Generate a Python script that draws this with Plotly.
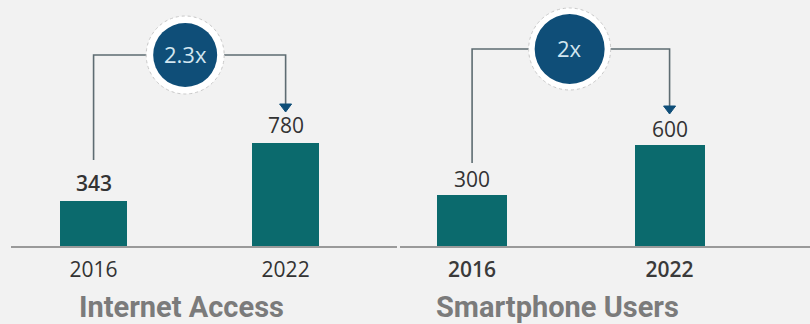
import plotly.graph_objects as go

# ---- data ----
years = ["2016", "2022"]
internet_access = [343, 780]
smartphone_users = [300, 600]
multipliers = ["2.3x", "2x"]
panel_titles = ["Internet Access", "Smartphone Users"]

# ---- styles ----
BG = "#f2f2f2"
BAR = "#0b6a6d"
CIRCLE = "#0f4e78"
CIRCLE_TXT = "#d3e6f0"
LINE = "#5e6c72"
TXT = "#333333"
TITLE = "#7b7b7b"
NUM_FONT = "Open Sans"

W, H = 810, 324
PLOT_H = 246  # pixel height of the plotting area (baseline at y=246)

panels = [
    dict(vals=internet_access, mult=multipliers[0], title=panel_titles[0],
         xa="x", ya="y", dom=[11 / W, 397 / W], rng=[-0.43, 1.58],
         ymax=1863, bw=0.35, lab_w=[600, 400], tick_w=400, tick_c=TXT, lab_shift=18,
         start_px=86, level_px=191, arrow_px=141, cx=0.477, r_in=32, r_out=39,
         title_x=0.46),
    dict(vals=smartphone_users, mult=multipliers[1], title=panel_titles[1],
         xa="x2", ya="y2", dom=[400 / W, 1.0], rng=[-0.365, 1.711],
         ymax=1461, bw=0.355, lab_w=[400, 400], tick_w=600, tick_c="#3a3a3a", lab_shift=16,
         start_px=83, level_px=197, arrow_px=139, cx=0.494, r_in=35, r_out=41,
         title_x=0.43),
]

fig = go.Figure()
shapes = []
annotations = []

for i, p in enumerate(panels):
    fig.add_trace(go.Bar(
        x=[0, 1], y=p["vals"], width=p["bw"],
        marker=dict(color=BAR, line=dict(width=0)),
        xaxis=p["xa"], yaxis=p["ya"], hoverinfo="skip", showlegend=False,
    ))
    to_y = lambda px, m=p["ymax"]: px * m / PLOT_H
    y_start = to_y(p["start_px"])
    y_level = to_y(p["level_px"])
    y_arrow = to_y(p["arrow_px"])

    # connector line
    shapes.append(dict(
        type="path", xref=p["xa"], yref=p["ya"],
        path=f"M 0,{y_start} L 0,{y_level} L 1,{y_level} L 1,{y_arrow}",
        line=dict(color=LINE, width=1.6), layer="above",
    ))
    # arrow head
    shapes.append(dict(
        type="path", xref=p["xa"], yref=p["ya"],
        xsizemode="pixel", ysizemode="pixel", xanchor=1, yanchor=y_arrow,
        path="M -6,1 L 6,1 L 0,-7 Z",
        fillcolor=CIRCLE, line=dict(color=CIRCLE, width=1), layer="above",
    ))
    # circle ring + badge
    for r, fill, lc, lw, dash in [(p["r_out"], "white", "#c8c8c8", 1, "dot"),
                                  (p["r_in"], CIRCLE, CIRCLE, 0, "solid")]:
        shapes.append(dict(
            type="circle", xref=p["xa"], yref=p["ya"],
            xsizemode="pixel", ysizemode="pixel",
            xanchor=p["cx"], yanchor=y_level,
            x0=-r, x1=r, y0=-r, y1=r,
            fillcolor=fill, line=dict(color=lc, width=lw, dash=dash), layer="above",
        ))
    annotations.append(dict(
        x=p["cx"], y=y_level, xref=p["xa"], yref=p["ya"], text=p["mult"],
        showarrow=False, font=dict(family=NUM_FONT, size=22, color=CIRCLE_TXT),
        xanchor="center", yanchor="middle", yshift=1,
    ))
    # value labels
    for j, v in enumerate(p["vals"]):
        annotations.append(dict(
            x=j, y=v, xref=p["xa"], yref=p["ya"], text=str(v), showarrow=False,
            font=dict(family=NUM_FONT, size=21, color=TXT, weight=p["lab_w"][j]),
            xanchor="center", yanchor="middle", yshift=p["lab_shift"],
        ))
    # panel title
    annotations.append(dict(
        x=p["title_x"], y=-(307 - PLOT_H) / PLOT_H, xref=p["xa"], yref="paper",
        text=p["title"], showarrow=False,
        font=dict(family="Roboto", size=29, color=TITLE, weight=700),
        xanchor="center", yanchor="middle",
    ))

    ax = dict(
        domain=p["dom"], range=p["rng"], tickmode="array", tickvals=[0, 1],
        ticktext=years, showgrid=False, zeroline=False, showline=True,
        linecolor="#9a9a9a", linewidth=1.5, ticks="outside", ticklen=4,
        tickcolor="rgba(0,0,0,0)",
        tickfont=dict(family=NUM_FONT, size=21, color=p["tick_c"], weight=p["tick_w"]),
        fixedrange=True,
    )
    ay = dict(range=[0, p["ymax"]], showgrid=False, zeroline=False,
              showticklabels=False, showline=False, fixedrange=True,
              anchor=p["xa"], domain=[0, 1])
    if i == 0:
        fig.update_layout(xaxis=dict(ax, anchor="y"), yaxis=ay)
    else:
        fig.update_layout(xaxis2=dict(ax, anchor="y2"), yaxis2=ay)

fig.update_layout(
    width=W, height=H, margin=dict(l=0, r=0, t=0, b=H - PLOT_H),
    paper_bgcolor=BG, plot_bgcolor=BG, shapes=shapes, annotations=annotations,
    bargap=0, showlegend=False,
)

fig.write_html("out.html", config={"displayModeBar": False})
